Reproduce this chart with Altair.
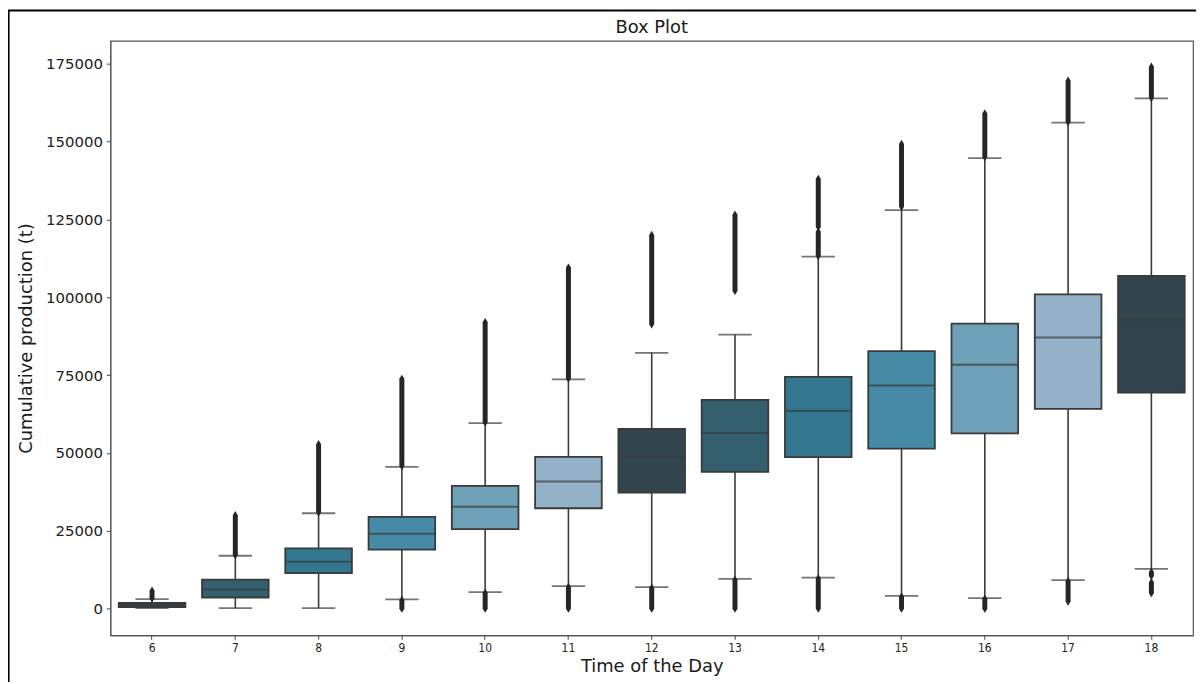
import altair as alt
import pandas as pd

hours = [6, 7, 8, 9, 10, 11, 12, 13, 14, 15, 16, 17, 18]
q1 = [500, 3600, 11400, 18950, 25550, 32250, 37250, 43950, 48630, 51400, 56300, 64180, 69390]
median = [1150, 6170, 15100, 24050, 32700, 40870, 48630, 56420, 63540, 71620, 78330, 87070, 92820]
q3 = [1900, 9360, 19400, 29500, 39400, 48750, 57700, 67050, 74400, 82700, 91540, 100900, 106870]
whisk_lo = [200, 200, 200, 2970, 5300, 7250, 6930, 9580, 10000, 4150, 3400, 9160, 12770]
whisk_hi = [3050, 17000, 30650, 45550, 59600, 73650, 82150, 88000, 113000, 127950, 144650, 156000, 163800]

# outlier runs (dense flier columns): hour, lowest flier, highest flier
out_hour = [6, 7, 8, 9, 9, 10, 10, 11, 11, 12, 12, 13, 13, 14, 14, 14, 15, 15, 16, 16, 17, 17, 18, 18, 18]
out_lo = [3300, 17200, 30900, 45800, 0, 59800, 0, 73900, 0, 91300, 0, 102000, 0, 113200, 122500, 0,
          129000, 0, 145000, 0, 156200, 2300, 164000, 10500, 5000]
out_hi = [5800, 30000, 52800, 73800, 2800, 92000, 5100, 109500, 7000, 120000, 6700, 126500, 9300, 121000,
          138000, 9800, 149200, 3900, 159000, 3200, 169500, 8900, 174000, 11800, 8500]

title_text = ["Box Plot"]

palette = ["#32454e", "#335f6f", "#33768f", "#468aa6", "#6ea0b8", "#93b2c8"]
colors = [palette[i % 6] for i in range(len(hours))]

boxes = pd.DataFrame({"hour": hours, "q1": q1, "median": median, "q3": q3,
                      "lo": whisk_lo, "hi": whisk_hi})
fliers = pd.DataFrame({"hour": out_hour, "lo": out_lo, "hi": out_hi})

FONT = "DejaVu Sans"
EDGE = "#3a3a3a"
PW, PH = 1089, 598
BAND = PW / 13
BOXW = BAND * 0.8
CAPW = BOXW * 0.5

x_enc = alt.X("hour:O", title="Time of the Day",
              scale=alt.Scale(type="band", domain=hours, paddingInner=0, paddingOuter=0),
              axis=alt.Axis(labelAngle=0, labelFontSize=12, labelFont="DejaVu Sans Condensed",
                            titleFontSize=18, titleFont=FONT, titleFontWeight="normal",
                            titleColor="#1a1a1a", labelColor="#222", tickColor="#444",
                            domainColor="#555", tickSize=4, labelPadding=3, titlePadding=4,
                            grid=False))
y_scale = alt.Scale(domain=[-8530, 182300], nice=False, zero=False)
y_axis = alt.Axis(values=[0, 25000, 50000, 75000, 100000, 125000, 150000, 175000], format="d",
                  labelFontSize=15, labelFont=FONT, labelColor="#222", tickColor="#444",
                  domainColor="#555", tickSize=4, labelPadding=4, grid=False,
                  titleFontSize=18, titleFont=FONT, titleFontWeight="normal", titleColor="#1a1a1a",
                  titlePadding=10)

base = alt.Chart(boxes)

whisk = base.mark_rule(color=EDGE, strokeWidth=1.6).encode(
    x=x_enc,
    y=alt.Y("lo:Q", scale=y_scale, axis=y_axis, title="Cumulative production (t)"),
    y2="hi:Q")
cap_lo = base.mark_tick(color=EDGE, size=CAPW, thickness=1.8).encode(x="hour:O", y="lo:Q")
cap_hi = base.mark_tick(color=EDGE, size=CAPW, thickness=1.8).encode(x="hour:O", y="hi:Q")

fl = alt.Chart(fliers)
flier_col = fl.mark_rule(color="#262626", strokeWidth=5).encode(x="hour:O", y="lo:Q", y2="hi:Q")
thin_diamond = "M-0.6,0L0,-1L0.6,0L0,1Z"
flier_lo = fl.mark_point(shape=thin_diamond, size=70, filled=True, color="#262626", opacity=1).encode(
    x="hour:O", y="lo:Q")
flier_hi = fl.mark_point(shape=thin_diamond, size=70, filled=True, color="#262626", opacity=1).encode(
    x="hour:O", y="hi:Q")

box = base.mark_bar(size=BOXW, stroke=EDGE, strokeWidth=1.8).encode(
    x="hour:O", y="q1:Q", y2="q3:Q",
    color=alt.Color("hour:O", scale=alt.Scale(domain=hours, range=colors), legend=None))
med = base.mark_tick(color=EDGE, size=BOXW, thickness=2).encode(x="hour:O", y="median:Q")

frame_src = alt.Data(values=[{"k": 1}])
frame_left = alt.Chart(frame_src).mark_rule(color="black", strokeWidth=2).encode(
    x=alt.value(-102.4), y=alt.value(-31), y2=alt.value(700))
frame_top = alt.Chart(frame_src).mark_rule(color="black", strokeWidth=2).encode(
    x=alt.value(-103), x2=alt.value(1200), y=alt.value(-30.5))

title = alt.Chart(alt.Data(values=[{"t": t} for t in title_text])).mark_text(
    font=FONT, fontSize=18, color="#1a1a1a", align="center", baseline="alphabetic").encode(
    text="t:N", x=alt.value(PW / 2), y=alt.value(-7.5))

chart = alt.layer(whisk, cap_lo, cap_hi, flier_col, flier_lo, flier_hi, box, med,
                  frame_left, frame_top, title).properties(
    width=PW, height=PH,
    background="white",
    autosize=alt.AutoSizeParams(type="none"),
    padding={"left": 103, "top": 31, "right": 3, "bottom": 45},
).configure_view(stroke="#555", strokeWidth=1.2)

chart.save("out.html", embed_options={"renderer": "svg", "actions": False})
